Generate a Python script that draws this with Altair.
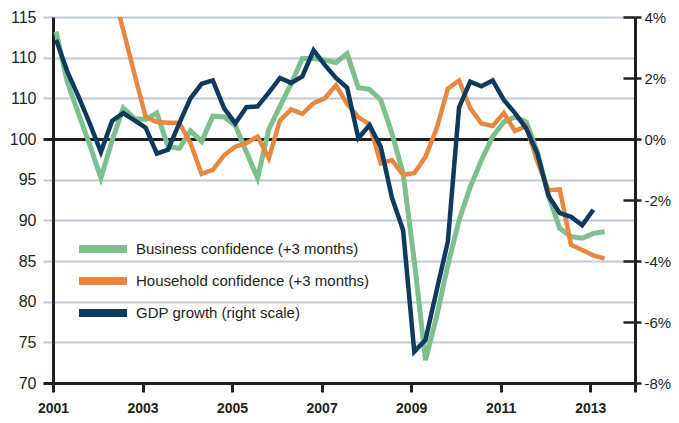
import altair as alt
import pandas as pd

# ---------------- data ----------------
n_q = 50
# quarterly positions, first point just after the start of 2001
t_pos = [round(2001.07 + 0.25 * i, 3) for i in range(n_q)]

business = [113.2, 107.0, 103.1, 99.3, 95.2, 99.8, 103.8, 102.5, 102.4, 103.2,
            99.05, 98.85, 101.0, 99.7, 102.8, 102.7, 101.7, 98.4, 95.2, 101.2,
            104.0, 106.8, 109.9, 109.9, 109.7, 109.4, 110.5, 106.3, 106.1, 104.8,
            100.7, 95.8, 85.0, 72.8, 78.2, 84.5, 90.0, 94.1, 97.4, 100.3,
            102.1, 102.7, 102.1, 98.4, 93.0, 89.0, 88.0, 87.8, 88.4, 88.6]

household_start = 5
household = [118.5, 113.4, 108.0, 102.7, 102.1, 102.0, 102.0, 99.5, 95.7,
             96.2, 98.0, 99.05, 99.5, 100.3, 97.6, 102.3, 103.65, 103.1, 104.4,
             105.0, 106.6, 104.3, 102.7, 101.8, 97.0, 97.4, 95.6, 95.8, 97.8,
             101.3, 106.2, 107.2, 103.8, 101.9, 101.6, 103.2, 101.0, 101.6, 97.2,
             93.7, 93.8, 87.0, 86.35, 85.7, 85.3]

gdp = [3.25, 2.21, 1.39, 0.51, -0.43, 0.59, 0.85, 0.61, 0.37, -0.48,
       -0.35, 0.51, 1.33, 1.81, 1.92, 1.01, 0.51, 1.04, 1.07, 1.52,
       2.00, 1.84, 2.05, 2.91, 2.43, 2.00, 1.68, 0.03, 0.45, -0.25,
       -1.92, -2.99, -6.97, -6.59, -4.96, -3.36, 1.04, 1.88, 1.73, 1.92,
       1.28, 0.85, 0.35, -0.48, -1.87, -2.43, -2.55, -2.83, -2.32]

series_names = ["Business confidence (+3 months)",
                "Household confidence (+3 months)",
                "GDP growth (right scale)"]
series_colors = ["#7dbf8e", "#e8873f", "#0f3a5f"]

x_ticks = [2001, 2003, 2005, 2007, 2009, 2011, 2013, 2014]
left_ticks = [70, 75, 80, 85, 90, 95, 100, 105, 110, 115]
right_ticks = [-8, -6, -4, -2, 0, 2, 4]

# ---------------- tables ----------------
df_bus = pd.DataFrame({"t": t_pos[:len(business)], "value": business,
                       "series": series_names[0]})
df_hh = pd.DataFrame({"t": t_pos[household_start:household_start + len(household)],
                      "value": household, "series": series_names[1]})
df_gdp = pd.DataFrame({"t": t_pos[:len(gdp)], "value": gdp, "series": series_names[2]})

# ---------------- style ----------------
FONT = "Liberation Sans, Arial, Helvetica, sans-serif"
INK = "#231f20"
GRID = "#c3c8d6"

x_enc = alt.X(
    "t:Q",
    title=None,
    scale=alt.Scale(domain=[2001, 2014], nice=False, zero=False),
    axis=alt.Axis(
        values=x_ticks, format="d",
        labelExpr="datum.value >= 2014 ? '' : datum.label",
        grid=False, domainColor=INK, domainWidth=3,
        tickColor=INK, tickWidth=3, tickSize=9,
        labelFont=FONT, labelFontWeight="bold", labelFontSize=14,
        labelColor=INK, labelPadding=9, labelFlush=False, labelOverlap=False,
    ),
)

color_enc = alt.Color(
    "series:N",
    scale=alt.Scale(domain=series_names, range=series_colors),
    legend=alt.Legend(
        title=None, orient="none", legendX=16, legendY=222,
        symbolType="M0,0H8", symbolSize=144, symbolStrokeWidth=8,
        clipHeight=20,
        labelFont=FONT, labelFontSize=15, labelColor=INK,
        labelOffset=47, rowPadding=12, padding=0, labelLimit=400,
    ),
)

left_axis = alt.Axis(
    values=left_ticks,
    labelExpr="datum.value == 105 ? '110' : datum.label",
    grid=True,
    gridColor={"condition": {"test": "datum.value == 100", "value": INK}, "value": GRID},
    gridWidth={"condition": {"test": "datum.value == 100", "value": 3}, "value": 2},
    domainColor=INK, domainWidth=3,
    tickColor={"condition": {"test": "datum.value == 100 || datum.value == 70", "value": INK}, "value": GRID},
    tickWidth={"condition": {"test": "datum.value == 100 || datum.value == 70", "value": 3}, "value": 2},
    tickSize=10,
    labelFont=FONT, labelFontSize=16, labelColor=INK, labelPadding=7,
)

left_y = alt.Y("value:Q", title=None,
               scale=alt.Scale(domain=[70, 115], nice=False, zero=False),
               axis=left_axis)

bus_line = alt.Chart(df_bus).mark_line(strokeWidth=5, clip=True).encode(
    x=x_enc, y=left_y, color=color_enc)
hh_line = alt.Chart(df_hh).mark_line(strokeWidth=4.5, clip=True).encode(
    x=x_enc, y=left_y, color=color_enc)
left = alt.layer(bus_line, hh_line)

right_scale = alt.Scale(domain=[-8, 4], nice=False, zero=False)

right = alt.Chart(df_gdp).mark_line(strokeWidth=4.5, clip=True).encode(
    x=x_enc,
    y=alt.Y("value:Q", title=None, scale=right_scale,
            axis=alt.Axis(
                orient="right", values=right_ticks,
                labelExpr="datum.value + '%'",
                grid=False, domainColor=INK, domainWidth=3,
                tickColor=INK, tickWidth=2.5, tickSize=6,
                labelFont=FONT, labelFontSize=15, labelColor=INK, labelPadding=3,
            )),
    color=color_enc,
)

# inner half of the right-hand ticks (ticks cross the axis line)
right_inner = alt.Chart(df_gdp).mark_line(opacity=0).encode(
    x=x_enc,
    y=alt.Y("value:Q", title=None, scale=right_scale,
            axis=alt.Axis(
                orient="right", offset=-12, values=right_ticks,
                domain=False, labels=False, grid=False,
                tickColor=INK, tickWidth=2.5, tickSize=12,
            )),
)

chart = (
    alt.layer(left, right, right_inner)
    .resolve_scale(y="independent")
    .properties(
        width=582, height=366,
        padding={"left": 45, "top": 9, "right": 36, "bottom": 32},
        autosize=alt.AutoSizeParams(type="none"),
        background="white",
    )
    .configure_view(stroke=None)
)

chart.save("out.html", embed_options={"renderer": "svg", "actions": False})
